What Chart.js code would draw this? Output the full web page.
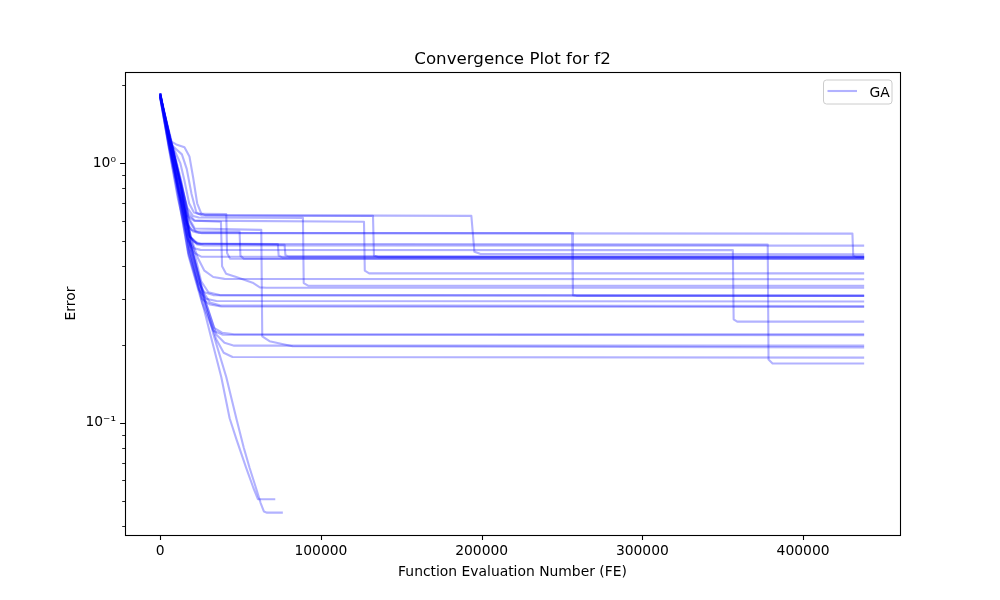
<!DOCTYPE html>
<html>
<head>
<meta charset="utf-8">
<title>Convergence Plot for f2</title>
<script src="https://cdn.jsdelivr.net/npm/chart.js@4.4.1/dist/chart.umd.min.js"></script>
<style>
  html, body { margin: 0; padding: 0; background: #fff; }
  #wrap { width: 1000px; height: 600px; }
</style>
</head>
<body>
<div id="wrap"><canvas id="chart" width="1000" height="600"></canvas></div>
<script>
// Convergence runs: [function evaluations, error]
const run01 = [[0,1.82],[5800,1.22],[10000,1.18],[15100,1.15],[18200,1.06],[20500,0.88],[23000,0.70],[25500,0.64],[28000,0.630],[193600,0.626],[195500,0.455],[199000,0.447],[438000,0.445]];
const run02 = [[0,1.80],[5500,1.20],[10000,1.13],[13500,1.08],[16500,0.95],[19500,0.76],[22500,0.645],[26000,0.628],[132400,0.626],[133000,0.44],[136000,0.434],[438000,0.434]];
const run03 = [[0,1.84],[5200,1.24],[9500,1.10],[12500,1.00],[15000,0.86],[18000,0.70],[21000,0.645],[24000,0.637],[41100,0.636],[41600,0.45],[43500,0.428],[438000,0.427]];
const run04 = [[0,1.86],[6000,1.25],[12500,0.86],[17000,0.67],[20500,0.625],[24000,0.617],[88800,0.615],[89300,0.345],[92000,0.337],[438000,0.337]];
const run05 = [[0,1.78],[5500,1.16],[11500,0.78],[16500,0.63],[21000,0.60],[126800,0.594],[127300,0.385],[130000,0.376],[438000,0.376]];
const run06 = [[0,1.83],[6500,1.22],[13000,0.83],[17500,0.64],[21500,0.60],[37800,0.594],[38500,0.40],[41000,0.375],[47300,0.364],[57500,0.346],[62000,0.332],[66000,0.331],[438000,0.331]];
const run07 = [[0,1.85],[6000,1.18],[12000,0.76],[16000,0.60],[19500,0.552],[23000,0.546],[49400,0.545],[49900,0.44],[52000,0.428],[438000,0.428]];
const run08 = [[0,1.81],[6200,1.24],[13000,0.84],[17500,0.62],[21500,0.56],[62900,0.553],[63500,0.215],[68000,0.206],[82400,0.197],[438000,0.195]];
const run09 = [[0,1.86],[5800,1.20],[11800,0.76],[17500,0.53],[21000,0.497],[25000,0.49],[73200,0.488],[73700,0.44],[76000,0.433],[438000,0.433]];
const run10 = [[0,1.79],[6300,1.18],[12800,0.78],[18500,0.52],[22500,0.49],[77400,0.484],[77900,0.442],[80000,0.437],[438000,0.437]];
const run11 = [[0,1.84],[5600,1.17],[11500,0.77],[16500,0.58],[20500,0.545],[24000,0.538],[256300,0.537],[256800,0.31],[259000,0.308],[438000,0.308]];
const run12 = [[0,1.82],[6500,1.25],[13200,0.85],[18000,0.60],[22000,0.545],[26000,0.537],[430700,0.535],[431200,0.44],[433000,0.435],[438000,0.435]];
const run13 = [[0,1.85],[5900,1.21],[12400,0.80],[18800,0.52],[23500,0.489],[378000,0.485],[378500,0.175],[381000,0.169],[438000,0.169]];
const run14 = [[0,1.80],[5400,1.14],[11000,0.73],[17000,0.51],[21000,0.47],[25000,0.463],[356300,0.462],[356800,0.25],[359000,0.245],[438000,0.245]];
const run15 = [[0,1.83],[6100,1.23],[12600,0.81],[18500,0.52],[23000,0.486],[27000,0.482],[438000,0.481]];
const run16 = [[0,1.86],[5700,1.19],[11600,0.76],[17500,0.50],[21500,0.45],[25500,0.436],[438000,0.433]];
const run17 = [[0,1.80],[6600,1.24],[13000,0.82],[19000,0.52],[23500,0.43],[27500,0.385],[33000,0.364],[40000,0.358],[438000,0.357]];
const run18 = [[0,1.85],[5800,1.19],[12000,0.77],[18000,0.47],[23500,0.35],[27500,0.318],[33000,0.310],[438000,0.308]];
const run19 = [[0,1.82],[6400,1.23],[13000,0.82],[19500,0.50],[25500,0.35],[30000,0.318],[37000,0.310],[438000,0.309]];
const run20 = [[0,1.78],[5400,1.15],[11200,0.74],[17500,0.45],[24000,0.325],[28500,0.300],[35000,0.294],[438000,0.293]];
const run21 = [[0,1.84],[6000,1.22],[12400,0.80],[18800,0.48],[26000,0.325],[31000,0.290],[37000,0.283],[438000,0.281]];
const run22 = [[0,1.81],[5600,1.17],[11700,0.76],[17800,0.45],[26000,0.30],[31000,0.285],[38000,0.280],[438000,0.279]];
const run23 = [[0,1.86],[6200,1.24],[12800,0.82],[19000,0.48],[27500,0.30],[33500,0.232],[38500,0.222],[46000,0.219],[438000,0.219]];
const run24 = [[0,1.80],[5500,1.16],[11400,0.75],[17600,0.44],[26000,0.29],[33000,0.226],[39000,0.218],[438000,0.217]];
const run25 = [[0,1.83],[6300,1.23],[12900,0.81],[19200,0.48],[28500,0.29],[35000,0.218],[40000,0.203],[46000,0.198],[438000,0.198]];
const run26 = [[0,1.85],[5800,1.20],[12000,0.78],[18400,0.46],[27000,0.295],[34800,0.21],[39500,0.186],[45000,0.179],[438000,0.178]];
const run27 = [[0,1.84],[5900,1.21],[12000,0.78],[18400,0.46],[25000,0.31],[31500,0.215],[38000,0.150],[43200,0.104],[47500,0.086],[53500,0.067],[58000,0.056],[60800,0.0507],[71600,0.0507]];
const run28 = [[0,1.80],[6300,1.23],[12800,0.82],[19000,0.48],[26500,0.31],[33500,0.215],[41100,0.150],[47500,0.103],[52000,0.080],[55600,0.067],[60000,0.055],[62500,0.049],[64500,0.0455],[66500,0.045],[76300,0.045]];

const runs = [run01, run02, run03, run04, run05, run06, run07, run08, run09, run10,
              run11, run12, run13, run14, run15, run16, run17, run18, run19, run20,
              run21, run22, run23, run24, run25, run26, run27, run28];

const legendLabel = 'GA';
const xTicks = [0, 100000, 200000, 300000, 400000];
const yMajorTicks = [0.1, 1];
const yMajorLabels = ['10\u207B\u00B9', '10\u2070'];
const yMinorTicks = [0.04, 0.05, 0.06, 0.07, 0.08, 0.09, 0.2, 0.3, 0.4, 0.5, 0.6, 0.7, 0.8, 0.9, 2];

const lineColor = 'rgba(0, 0, 255, 0.3)';
const FONT = 'DejaVu Sans';

Chart.defaults.font.family = FONT;
Chart.defaults.color = '#000';

// spines, tick marks and the little legend box, matplotlib style
const axesFrame = {
    id: 'axesFrame',
    afterDraw(chart) {
        const { ctx, chartArea: a, scales: { x, y } } = chart;
        ctx.save();
        ctx.strokeStyle = '#000';
        ctx.lineWidth = 1.1;
        ctx.beginPath();
        xTicks.forEach(v => {
            const px = Math.round(x.getPixelForValue(v)) + 0.5;
            ctx.moveTo(px, a.bottom);
            ctx.lineTo(px, a.bottom + 4.9);
        });
        yMajorTicks.forEach(v => {
            const py = Math.round(y.getPixelForValue(v)) + 0.5;
            ctx.moveTo(a.left, py);
            ctx.lineTo(a.left - 4.9, py);
        });
        ctx.stroke();
        ctx.lineWidth = 0.85;
        ctx.beginPath();
        yMinorTicks.forEach(v => {
            const py = Math.round(y.getPixelForValue(v)) + 0.5;
            ctx.moveTo(a.left, py);
            ctx.lineTo(a.left - 2.8, py);
        });
        ctx.stroke();
        ctx.lineWidth = 1.1;
        ctx.strokeRect(a.left + 0.5, a.top + 0.5, a.right - a.left, a.bottom - a.top);

        // legend
        const bx = a.right - 76.5, by = a.top + 8, bw = 68.5, bh = 24;
        ctx.beginPath();
        if (ctx.roundRect) ctx.roundRect(bx, by, bw, bh, 3); else ctx.rect(bx, by, bw, bh);
        ctx.fillStyle = 'rgba(255,255,255,0.8)';
        ctx.fill();
        ctx.strokeStyle = '#cccccc';
        ctx.lineWidth = 1;
        ctx.stroke();
        ctx.beginPath();
        ctx.strokeStyle = lineColor;
        ctx.lineWidth = 2.1;
        ctx.moveTo(bx + 4, by + 11);
        ctx.lineTo(bx + 33.5, by + 11);
        ctx.stroke();
        ctx.fillStyle = '#000';
        ctx.font = '13.9px "' + FONT + '"';
        ctx.textBaseline = 'alphabetic';
        ctx.fillText(legendLabel, bx + 46, by + 16.7);
        ctx.restore();
    }
};

const datasets = runs.map((r, i) => ({
    label: i === 0 ? legendLabel : '',
    data: r.map(([fe, err]) => ({ x: fe, y: err })),
    borderColor: lineColor,
    borderWidth: 2.1,
    borderJoinStyle: 'round',
    pointRadius: 0,
    fill: false,
    tension: 0
}));

new Chart(document.getElementById('chart'), {
    type: 'line',
    data: { datasets },
    options: {
        responsive: false,
        animation: false,
        devicePixelRatio: 1,
        layout: { padding: { left: 0, right: 100, top: 0, bottom: 0 } },
        plugins: {
            legend: { display: false },
            tooltip: { enabled: false },
            title: {
                display: true,
                fullSize: false,
                text: 'Convergence Plot for f2',
                font: { family: FONT, size: 16.67, weight: 'normal', lineHeight: 1.2 },
                color: '#000',
                padding: { top: 50, bottom: 2 }
            }
        },
        scales: {
            x: {
                type: 'linear',
                min: -21900,
                max: 460300,
                grid: { display: false, drawTicks: false },
                border: { display: false },
                afterBuildTicks: s => { s.ticks = xTicks.map(v => ({ value: v })); },
                afterFit: s => { s.height = 65; },
                ticks: {
                    autoSkip: false,
                    maxRotation: 0,
                    padding: 7.6,
                    font: { size: 13.89 },
                    callback: v => String(v)
                },
                title: {
                    display: true,
                    text: 'Function Evaluation Number (FE)',
                    font: { size: 13.89 },
                    padding: { top: 4, bottom: 19 }
                }
            },
            y: {
                type: 'logarithmic',
                min: 0.03691,
                max: 2.243,
                grid: { display: false, drawTicks: false },
                border: { display: false },
                afterBuildTicks: s => {
                    s.ticks = yMinorTicks.concat(yMajorTicks).sort((a, b) => a - b).map(v => ({ value: v }));
                },
                afterFit: s => { s.width = 125; },
                ticks: {
                    autoSkip: false,
                    padding: 9,
                    font: { size: 13.89 },
                    callback: v => {
                        const k = yMajorTicks.findIndex(t => Math.abs(t - v) < 1e-9);
                        return k >= 0 ? yMajorLabels[k] : '';
                    }
                },
                title: {
                    display: true,
                    text: 'Error',
                    font: { size: 13.89 },
                    padding: { top: 62.6, bottom: 0 }
                }
            }
        }
    },
    plugins: [axesFrame]
});
</script>
</body>
</html>
